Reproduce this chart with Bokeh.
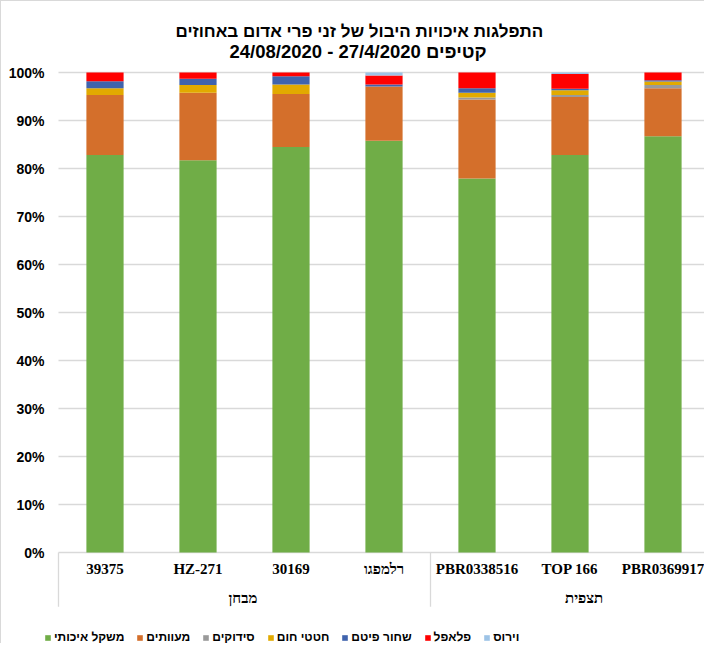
from bokeh.plotting import figure
from bokeh.models import ColumnDataSource, Range1d, Legend, LegendItem
from bokeh.core.properties import value
from bokeh.embed import file_html
from bokeh.resources import INLINE

# ---- data ----
cultivars = ["39375", "HZ-271", "30169", "רלמפגו", "PBR0338516", "TOP 166", "PBR0369917"]
groups = ["מבחן", "מבחן", "מבחן", "מבחן", "תצפית", "תצפית", "תצפית"]

series_names = ["משקל איכותי", "מעוותים", "סידוקים", "חטטי חום", "שחור פיטם", "פלאפל", "וירוס"]
quality  = [82.8, 81.7, 84.5, 85.8, 77.9, 82.8, 86.7]
deformed = [12.5, 14.1, 11.0, 11.3, 16.5, 12.1, 10.0]
cracks   = [0.0, 0.0, 0.0, 0.0, 0.4, 0.4, 0.7]
brown    = [1.4, 1.6, 2.0, 0.0, 1.0, 1.0, 0.7]
blossom  = [1.5, 1.3, 1.7, 0.4, 0.9, 0.3, 0.3]
falafel  = [1.8, 1.3, 0.8, 1.9, 3.3, 3.1, 1.6]
virus    = [0.0, 0.0, 0.0, 0.6, 0.0, 0.3, 0.0]
y_ticks = [0, 10, 20, 30, 40, 50, 60, 70, 80, 90, 100]
y_tick_labels = ["0%", "10%", "20%", "30%", "40%", "50%", "60%", "70%", "80%", "90%", "100%"]

title_line1 = "התפלגות איכויות היבול של זני פרי אדום באחוזים"
title_line2 = "24/08/2020 - 27/4/2020 קטיפים"

colors = ["#70AD47", "#D46F2B", "#9A9A9A", "#E2AA00", "#3F63AD", "#FF0000", "#9DC3E6"]

# ---- layout constants (canvas pixels) ----
W, H = 704, 643
X0PX = 57          # canvas px of the left category boundary
STEP = 93.0        # px per category
PX_PER_PCT = 4.8   # px per percent
Y100 = 71          # canvas row of the 100% gridline

def px_to_x(px):
    return -0.5 + (px - X0PX) / STEP

def py_to_y(py):
    return 100 + (Y100 - py) / PX_PER_PCT

def is_hebrew(s):
    return any("\u0590" <= ch <= "\u05FF" for ch in s)

# horizontal shift (px) used to centre the right-to-left labels
hebrew_shift = {"רלמפגו": -20, "מבחן": -16, "תצפית": -5}

p = figure(width=W, height=H, output_backend="svg", toolbar_location=None,
           x_axis_location=None, y_axis_location=None,
           min_border_left=0, min_border_right=0, min_border_bottom=0, min_border_top=0)
p.title.visible = False
p.outline_line_color = None
p.grid.visible = False
p.styles = {"border-left": "1px solid #d9d9d9", "border-top": "1px solid #d9d9d9"}

n = len(cultivars)
x_end = px_to_x(W)
p.x_range = Range1d(px_to_x(0), x_end)
p.y_range = Range1d(py_to_y(H), py_to_y(0))

# gridlines
p.segment(x0=[-0.5] * len(y_ticks), y0=y_ticks, x1=[x_end] * len(y_ticks), y1=y_ticks,
          line_color="#d9d9d9", line_width=1.3)

# y tick labels
p.text(x=[px_to_x(43)] * len(y_ticks), y=y_ticks, text=y_tick_labels, text_align="right",
       text_baseline="middle", text_font=value("Liberation Sans"), text_font_style="bold",
       text_font_size="14px", text_color="#000000")

# stacked bars
keys = ["s0", "s1", "s2", "s3", "s4", "s5", "s6"]
data = dict(x=list(range(n)))
for k, arr in zip(keys, [quality, deformed, cracks, brown, blossom, falafel, virus]):
    data[k] = arr
src = ColumnDataSource(data)
rs = p.vbar_stack(keys, x="x", width=0.4, source=src, color=colors, line_color=None)

# category axis drawn below zero
bounds = [-0.5]
for i in range(1, n):
    if groups[i] != groups[i - 1]:
        bounds.append(i - 0.5)
bounds.append(n - 0.5)
p.segment(x0=bounds, y0=[0] * len(bounds), x1=bounds, y1=[-11.3] * len(bounds),
          line_color="#d9d9d9", line_width=1.3)

def draw_labels(xs, y, labels, size):
    for xv, lab in zip(xs, labels):
        if is_hebrew(lab):
            p.text(x=[xv], y=[y], text=[lab], text_align="left", text_baseline="middle",
                   x_offset=hebrew_shift.get(lab, -15),
                   text_font=value("Liberation Serif"), text_font_style="bold",
                   text_font_size=size, text_color="#000000")
        else:
            p.text(x=[xv], y=[y], text=[lab], text_align="center", text_baseline="middle",
                   text_font=value("Liberation Serif"), text_font_style="bold",
                   text_font_size=size, text_color="#000000")

draw_labels(list(range(n)), -3.5, cultivars, "15px")

uniq = []
for g in groups:
    if g not in uniq:
        uniq.append(g)
gx = [sum(i for i in range(n) if groups[i] == g) / groups.count(g) for g in uniq]
draw_labels(gx, -9.4, uniq, "15px")

# titles
p.text(x=[px_to_x(174)], y=[py_to_y(30)], text=[title_line1], text_align="left",
       text_baseline="middle", text_font=value("Liberation Sans"),
       text_font_style="bold", text_font_size="17px", text_color="#000000")
p.text(x=[px_to_x(228)], y=[py_to_y(50)], text=[title_line2], text_align="left",
       text_baseline="middle", text_font=value("Liberation Sans"),
       text_font_style="bold", text_font_size="18.5px", text_color="#000000")

# legend
items = [LegendItem(label=nm, renderers=[r]) for nm, r in zip(series_names, rs)]
leg = Legend(items=items, orientation="horizontal", location=(43, 0),
             glyph_width=7, glyph_height=7, label_standoff=3, spacing=12,
             padding=0, margin=0, border_line_color=None, background_fill_alpha=0,
             label_text_font="Liberation Sans", label_text_font_style="bold",
             label_text_font_size="12px", label_text_color="#000000")
p.add_layout(leg)

open("out.html", "w").write(file_html(p, INLINE))
